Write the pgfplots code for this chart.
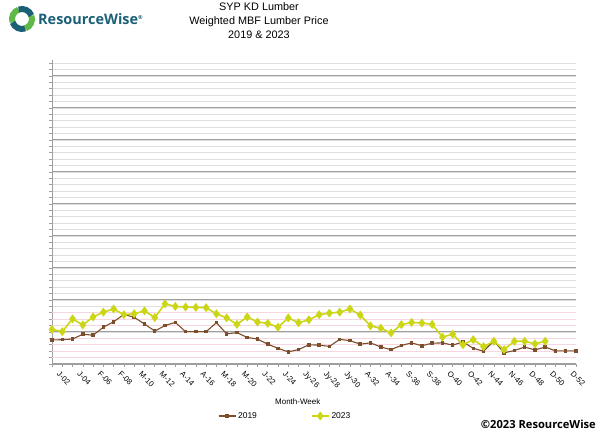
\documentclass[border=0pt]{standalone}
\usepackage{fontspec}
\setmainfont{Liberation Sans}
\newfontfamily\logofont{Open Sans}
\usepackage{pgfplots}
\pgfplotsset{compat=1.18}

\definecolor{brown19}{RGB}{125,78,45}
\definecolor{yel23}{RGB}{203,214,22}
\definecolor{rwteal}{RGB}{28,96,120}
\definecolor{rwgreen}{RGB}{96,184,72}
\definecolor{pinkgrid}{RGB}{246,214,225}

\begin{document}
\begin{tikzpicture}[x=1bp,y=1bp]
\path[use as bounding box] (0,0) rectangle (600,435);

% logo
\begin{scope}[shift={(22,416)}]
  \draw[rwgreen, line width=6bp] (110:10) arc (110:200:10);
  \draw[rwteal, line width=6bp] (200:10) arc (200:290:10);
  \draw[rwgreen, line width=6bp] (290:10) arc (290:380:10);
  \draw[rwteal, line width=6bp] (20:10) arc (20:110:10);
\end{scope}
\node[anchor=west, text=rwteal, inner sep=0] at (38,416)
  {\logofont\bfseries\fontsize{14.5}{16}\selectfont ResourceWise\textsuperscript{\fontsize{5.5}{6}\selectfont\textregistered}};

% title
\node[align=center, font=\fontsize{10.9}{14.5}\selectfont, anchor=north, inner sep=0] at (259,433)
  {SYP KD Lumber\\Weighted MBF Lumber Price\\2019 \& 2023};

\begin{axis}[
  at={(52bp,71bp)}, anchor=south west,
  width=524bp, height=304bp, scale only axis,
  xmin=1, xmax=52, ymin=0, ymax=950,
  axis x line=bottom, axis y line=left,
  axis line style={-, draw=gray!75, line width=0.9bp},
  xtick={2,4,...,52},
  minor xtick={1,3,...,51},
  xticklabels={J-02,J-04,F-06,F-08,M-10,M-12,A-14,A-16,M-18,M-20,J-22,J-24,Jy-26,Jy-28,Jy-30,A-32,A-34,S-36,S-38,O-40,O-42,N-44,N-46,D-48,D-50,D-52},
  x tick label style={font=\fontsize{7.8}{9}\selectfont, rotate=-45, anchor=north west, inner sep=1bp, xshift=0bp, yshift=-3bp},
  ytick={0,100,...,900},
  minor ytick={20,40,...,940},
  yticklabels={},
  tick align=outside,
  major tick length=3bp, minor tick length=3bp,
  every tick/.style={gray!75, line width=0.6bp},
  ymajorgrids, yminorgrids,
  major grid style={gray!75, line width=1bp},
  minor grid style={gray!25, line width=0.9bp},
  legend columns=2,
  legend style={at={(axis description cs:0.445,-0.171)}, anchor=center, draw=none, fill=none,
    font=\fontsize{8.5}{10}\selectfont,
    /tikz/every even column/.append style={column sep=52bp}},
  clip=false,
]
\pgfplotsinvokeforeach{20,40,60,80,120,140,160}{
  \draw[pinkgrid, line width=0.9bp] (axis cs:1,#1) -- (axis cs:52,#1);
}

\addplot[color=brown19, line width=1.1bp, mark=square*, mark size=1.2bp] coordinates {
(1,75) (2,76) (3,78) (4,93) (5,90) (6,115) (7,132) (8,155) (9,146) (10,125)
(11,103) (12,120) (13,130) (14,101) (15,101) (16,101) (17,129) (18,94) (19,98) (20,83)
(21,78) (22,62) (23,49) (24,38) (25,45) (26,60) (27,59) (28,55) (29,77) (30,73)
(31,62) (32,66) (33,53) (34,45) (35,58) (36,66) (37,57) (38,65) (39,66) (40,59)
(41,69) (42,49) (43,40) (44,72) (45,35) (46,42) (47,53) (48,44) (49,53) (50,41)
(51,41) (52,41)
};
\addlegendentry{2019}

\addplot[color=yel23, line width=1.6bp, mark=diamond*, mark size=3.2bp] coordinates {
(1,108) (2,101) (3,141) (4,122) (5,147) (6,162) (7,172) (8,154) (9,157) (10,166)
(11,145) (12,188) (13,180) (14,178) (15,177) (16,176) (17,157) (18,144) (19,124) (20,147)
(21,131) (22,127) (23,115) (24,144) (25,129) (26,138) (27,154) (28,159) (29,162) (30,172)
(31,153) (32,119) (33,112) (34,97) (35,123) (36,130) (37,128) (38,124) (39,84) (40,93)
(41,60) (42,76) (43,54) (44,71) (45,45) (46,71) (47,71) (48,63) (49,71)
};
\addlegendentry{2023}

\node[font=\fontsize{8}{9}\selectfont] at (axis description cs:0.469,-0.125) {Month-Week};
\end{axis}

\node[anchor=east, inner sep=0] at (596,11)
  {\logofont\bfseries\fontsize{11.2}{12}\selectfont \textcopyright 2023 ResourceWise};
\end{tikzpicture}
\end{document}
